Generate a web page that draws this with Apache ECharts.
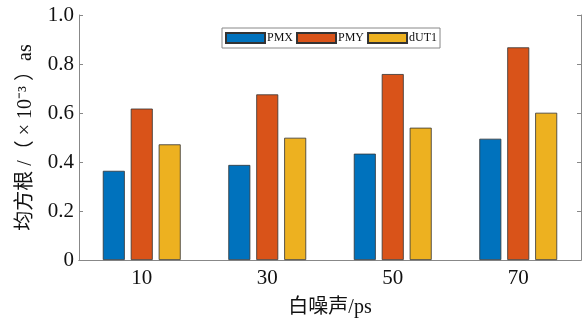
<!DOCTYPE html>
<html><head><meta charset="utf-8">
<script src="https://cdn.jsdelivr.net/npm/echarts@6/dist/echarts.min.js"></script>
<style>html,body{margin:0;padding:0;background:#fff}#c{width:586px;height:324px}</style>
</head><body><div id="c"></div>
<script>
const categories = ['10', '30', '50', '70'];
const seriesNames = ['PMX', 'PMY', 'dUT1'];
const pmx = [0.364, 0.388, 0.434, 0.495];
const pmy = [0.618, 0.676, 0.759, 0.868];
const dut1 = [0.472, 0.499, 0.540, 0.601];
const yTicks = ['0', '0.2', '0.4', '0.6', '0.8', '1.0'];
const colors = ['#0072BD', '#D95319', '#EDB120'];
const FONT = "'Liberation Serif', 'Noto Sans CJK SC', serif";
const AX = '#888888';

const chart = echarts.init(document.getElementById('c'), null, {renderer: 'canvas'});
const mk = (name, data, i) => ({
  name, type: 'bar', data, barWidth: 22, barGap: '27%',
  itemStyle: {color: colors[i], borderColor: '#333', borderWidth: 0.8}
});
chart.setOption({
  animation: false,
  grid: {left: 79, right: 5, top: 15, bottom: 64, containLabel: false},
  legend: {
    left: 222, top: 28, itemWidth: 39, itemHeight: 10, itemGap: 3,
    padding: [4, 3, 4, 3], borderColor: '#888', borderWidth: 1,
    icon: 'rect',
    textStyle: {fontFamily: FONT, fontSize: 12, color: '#111', padding: [0, 0, 0, -3]},
    data: seriesNames
  },
  xAxis: [{
    type: 'category', data: categories, position: 'bottom',
    axisLine: {lineStyle: {color: AX}},
    axisTick: {inside: true, alignWithLabel: true, length: 4, lineStyle: {color: AX}},
    axisLabel: {fontFamily: FONT, fontSize: 21, color: '#111', margin: 8},
    name: '白噪声/ps', nameLocation: 'middle', nameGap: 38,
    nameTextStyle: {fontFamily: FONT, fontSize: 20, color: '#111'}
  }, {
    type: 'category', data: categories, position: 'top',
    axisLine: {lineStyle: {color: AX}},
    axisTick: {inside: true, alignWithLabel: true, length: 4, lineStyle: {color: AX}},
    axisLabel: {show: false}
  }],
  yAxis: [{
    type: 'value', min: 0, max: 1, interval: 0.2, position: 'left',
    axisLine: {show: true, lineStyle: {color: AX}},
    axisTick: {show: true, inside: true, length: 4, lineStyle: {color: AX}},
    splitLine: {show: false},
    axisLabel: {fontFamily: FONT, fontSize: 21, color: '#111', margin: 5,
      formatter: (v) => yTicks[Math.round(v * 5)]},
    name: '均方根 /（ × 10⁻³ ）as', nameLocation: 'middle', nameGap: 43,
    nameTextStyle: {fontFamily: FONT, fontSize: 20, color: '#111'}
  }, {
    type: 'value', min: 0, max: 1, interval: 0.2, position: 'right',
    axisLine: {show: true, lineStyle: {color: AX}},
    axisTick: {show: true, inside: true, length: 4, lineStyle: {color: AX}},
    splitLine: {show: false},
    axisLabel: {show: false}
  }],
  series: [mk('PMX', pmx, 0), mk('PMY', pmy, 1), mk('dUT1', dut1, 2)]
});
</script></body></html>
